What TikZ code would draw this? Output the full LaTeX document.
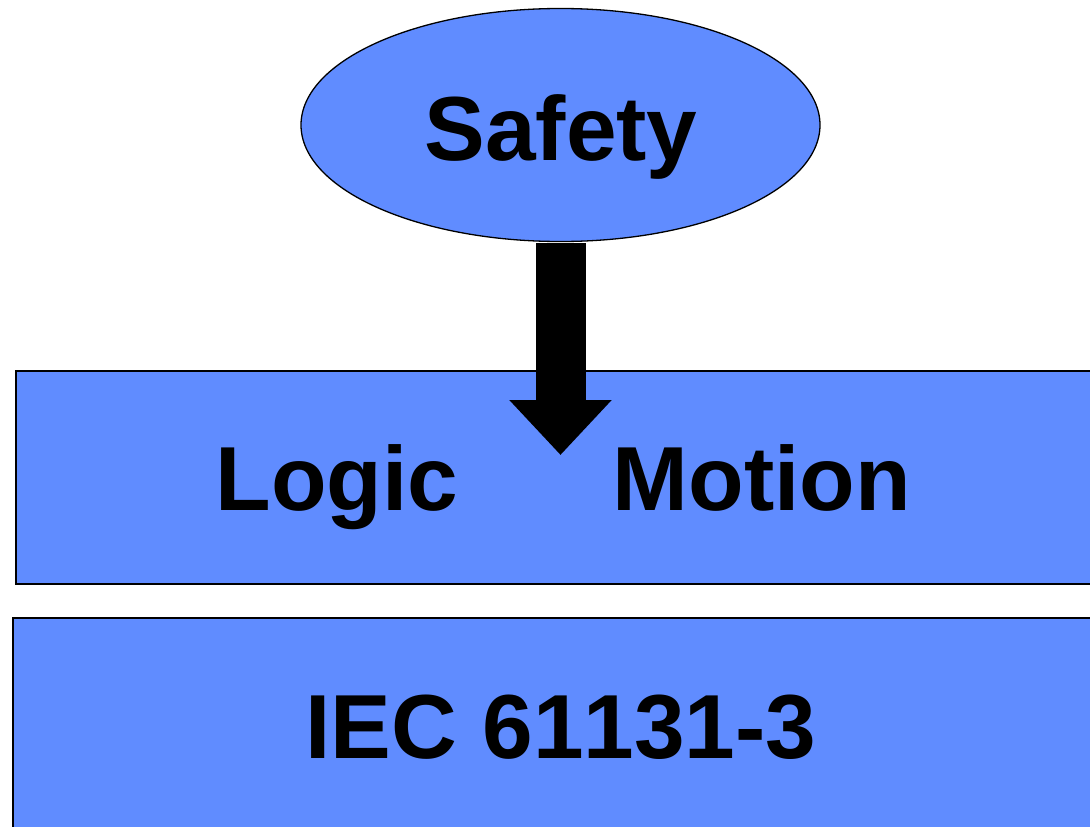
\documentclass[tikz,border=0pt]{standalone}
\usepackage{fontspec}
\setmainfont{Liberation Sans}
\usetikzlibrary{arrows.meta,shapes.geometric}
\definecolor{panelblue}{RGB}{96,140,255}
\tikzset{
  panel/.style={draw=black, line width=2pt, fill=panelblue, rectangle, inner sep=0pt},
  oval/.style={ellipse, draw=black, line width=1.3pt, fill=panelblue, inner sep=0pt},
  bigtext/.style={font=\fontsize{91}{100}\selectfont\bfseries\addfontfeatures{Kerning=Off}, text=black, inner sep=0pt, anchor=base},
  bigarrow/.style={line width=50pt, -{Triangle[width=99pt,length=55pt]}, black, shorten <=1pt},
}
\begin{document}
\begin{tikzpicture}[x=1pt, y=-1pt]
  \useasboundingbox (0,0) rectangle (1090,827);
  \clip (0,0) rectangle (1090,827);

  % layered panels
  \node[panel, minimum width=1100pt, minimum height=213pt, anchor=north west] (layer1) at (15,370) {};
  \node[panel, minimum width=1100pt, minimum height=240pt, anchor=north west] (layer2) at (12,617) {};

  % top-level element and its arrow into the first layer
  \node[oval, minimum width=519pt, minimum height=233pt] (safety) at (560.5,125) {};
  \coordinate (tip) at (560.5,455);
  \draw[bigarrow] (safety.south) -- (tip);

  % labels
  \node[bigtext] (safetytext) at (561,160) {Safety};
  \node[bigtext] (logic) at (337,510) {Logic};
  \node[bigtext] (motion) at (762,510) {Motion};
  \node[bigtext] (iec) at (561,758) {IEC 61131-3};
\end{tikzpicture}
\end{document}
